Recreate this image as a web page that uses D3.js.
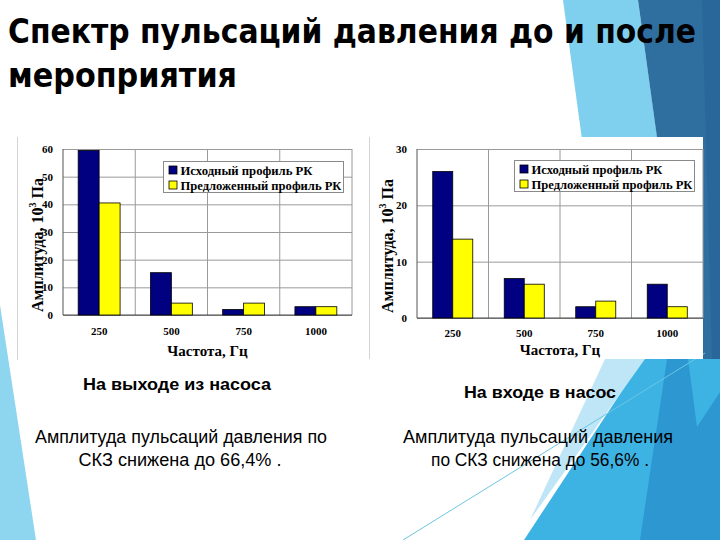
<!DOCTYPE html>
<html><head><meta charset="utf-8">
<script src="https://cdn.jsdelivr.net/npm/d3@7"></script>
<style>body{margin:0;background:#fff}svg{display:block}</style>
</head><body><svg id="c" width="720" height="540"></svg>
<script>
// ---- data ----
const categories = ["250", "500", "750", "1000"];
const seriesNames = ["Исходный профиль РК", "Предложенный профиль РК"];
const outletOriginal = [59.5, 15.3, 2, 3];
const outletProposed = [40.5, 4.3, 4.3, 3];
const inletOriginal = [26, 7, 2, 6];
const inletProposed = [14, 6, 3, 2];
const outletTicks = [0, 10, 20, 30, 40, 50, 60];
const inletTicks = [0, 10, 20, 30];
const titleLines = ["Спектр пульсаций давления до и после", "мероприятия"];

const svg = d3.select("#c");
const serif = "'Liberation Serif','Times New Roman',serif";
const sans = "'Liberation Sans',Arial,sans-serif";

// ---- slide decoration ----
const deco = svg.append("g");
const poly = (pts, fill) => deco.append("polygon").attr("points", pts.map(p => p.join(",")).join(" ")).attr("fill", fill);
poly([[563,0],[638,0],[688,360],[612,360]], "#7fd0ee");
poly([[638,0],[720,0],[720,392],[697,427]], "#2e6fa0");
poly([[702,0],[720,0],[720,360],[712,360]], "#29679a");
poly([[643,359],[720,359],[720,540],[524,540]], "#3db3e4");
poly([[667,359],[688,359],[697,427],[720,392],[720,540],[640,540]], "#2c97d1");
poly([[605,359],[645,359],[530,520]], "#bfe6f6");
poly([[0,305],[0,540],[36,540]], "#8ed5ef");
deco.append("line").attr("x1",403).attr("y1",540).attr("x2",705).attr("y2",353)
  .attr("stroke","#6cc6e3").attr("stroke-width",1);

// ---- title ----
const titleFont = "'DejaVu Sans Condensed','DejaVu Sans',sans-serif";
svg.append("text").attr("x", 8).attr("y", 43).text(titleLines[0])
  .attr("font-family", titleFont).attr("font-weight", "bold")
  .attr("font-size", 34).attr("textLength", 688).attr("lengthAdjust", "spacingAndGlyphs").attr("fill", "#000");
svg.append("text").attr("x", 8).attr("y", 87).text(titleLines[1])
  .attr("font-family", titleFont).attr("font-weight", "bold")
  .attr("font-size", 34).attr("textLength", 229).attr("lengthAdjust", "spacingAndGlyphs").attr("fill", "#000");

// ---- chart drawing ----
function drawChart(cfg) {
  const g = svg.append("g");
  const P = cfg.panel;
  g.append("rect").attr("x", P.x).attr("y", P.y).attr("width", P.w).attr("height", P.h).attr("fill", "#fff");
  g.append("line").attr("x1", P.x + 0.5).attr("x2", P.x + 0.5).attr("y1", P.y).attr("y2", P.y + P.h)
    .attr("stroke", "#d4d4d4");

  const x = d3.scaleBand().domain(categories).range([cfg.l, cfg.r]).paddingInner(cfg.pad).paddingOuter(cfg.pad / 2);
  const xi = d3.scaleBand().domain([0, 1]).range([0, x.bandwidth()]);
  const y = d3.scaleLinear().domain([0, d3.max(cfg.ticks)]).range([cfg.b, cfg.t]);

  // horizontal grid + y tick labels
  const ya = g.append("g").attr("transform", `translate(${cfg.l},0)`)
    .call(d3.axisLeft(y).tickValues(cfg.ticks).tickSize(-(cfg.r - cfg.l)).tickPadding(10).tickFormat(d3.format("d")));
  ya.select(".domain").remove();
  ya.selectAll(".tick line").attr("stroke", "#9a9a9a").attr("stroke-width", 1);
  ya.selectAll(".tick text").attr("font-family", serif).attr("font-weight", "bold").attr("font-size", 11).attr("fill", "#000");

  // vertical grid lines at category boundaries
  const bounds = d3.range(categories.length + 1).map(i => cfg.l + i * x.step());
  g.selectAll(null).data(bounds).join("line")
    .attr("x1", d => d).attr("x2", d => d).attr("y1", cfg.t).attr("y2", cfg.b)
    .attr("stroke", (d, i) => i === 0 ? "#555" : "#9a9a9a");
  g.append("line").attr("x1", cfg.l).attr("x2", cfg.r).attr("y1", y(0)).attr("y2", y(0)).attr("stroke", "#444");

  // bars
  const colors = ["#000080", "#ffff00"];
  const rows = categories.map((c, i) => ({ c, v: [cfg.data[0][i], cfg.data[1][i]] }));
  const grp = g.selectAll(null).data(rows).join("g").attr("transform", d => `translate(${x(d.c)},0)`);
  grp.selectAll("rect").data(d => d.v.map((v, s) => ({ v, s }))).join("rect")
    .attr("x", d => xi(d.s)).attr("width", xi.bandwidth())
    .attr("y", d => y(d.v)).attr("height", d => y(0) - y(d.v))
    .attr("fill", d => colors[d.s]).attr("stroke", "#000").attr("stroke-width", 0.8);

  // x axis labels
  const xa = g.append("g").attr("transform", `translate(0,${y(0)})`)
    .call(d3.axisBottom(x).tickSize(0).tickPadding(cfg.xPad));
  xa.select(".domain").remove();
  xa.selectAll(".tick text").attr("font-family", serif).attr("font-weight", "bold").attr("font-size", 11).attr("fill", "#000");

  // axis titles
  g.append("text").attr("x", (cfg.l + cfg.r) / 2).attr("y", cfg.xTitleY).attr("text-anchor", "middle")
    .attr("font-family", serif).attr("font-weight", "bold").attr("font-size", 15).text("Частота, Гц");
  const yt = g.append("text").attr("transform", `translate(${cfg.yTitleX},${cfg.yTitleC}) rotate(-90)`)
    .attr("text-anchor", "middle").attr("font-family", serif).attr("font-weight", "bold").attr("font-size", 16);
  yt.append("tspan").text("Амплитуда, 10");
  yt.append("tspan").text("3").attr("font-size", 10).attr("dy", -7);
  yt.append("tspan").text(" Па").attr("dy", 7);

  // legend
  const L = cfg.legend;
  const lg = g.append("g").attr("transform", `translate(${L.x},${L.y})`);
  lg.append("rect").attr("width", L.w).attr("height", L.h).attr("fill", "#fff").attr("stroke", "#8a8a8a");
  seriesNames.forEach((n, s) => {
    lg.append("rect").attr("x", 5.5).attr("y", 4.5 + s * 15).attr("width", 8).attr("height", 8)
      .attr("fill", colors[s]).attr("stroke", "#000").attr("stroke-width", 0.8);
    lg.append("text").attr("x", 17).attr("y", 13 + s * 15).text(n)
      .attr("font-family", serif).attr("font-weight", "bold").attr("font-size", 12.5)
      .attr("textLength", L.tl[s]).attr("lengthAdjust", "spacingAndGlyphs");
  });
}

drawChart({
  panel: { x: 17, y: 137, w: 336, h: 223 },
  l: 63, r: 352, t: 149, b: 315, pad: 0.42,
  ticks: outletTicks, data: [outletOriginal, outletProposed],
  xPad: 12, xTitleY: 356, yTitleX: 43, yTitleC: 245,
  legend: { x: 163.5, y: 161.5, w: 180, h: 31, tl: [132, 161] }
});
drawChart({
  panel: { x: 369, y: 137, w: 334, h: 222 },
  l: 417, r: 703, t: 149, b: 318, pad: 0.44,
  ticks: inletTicks, data: [inletOriginal, inletProposed],
  xPad: 11, xTitleY: 355, yTitleX: 393, yTitleC: 246,
  legend: { x: 514.5, y: 160.5, w: 180, h: 31, tl: [131, 161] }
});

// ---- captions ----
const cap = (t, cx, by, size, bold, len) => svg.append("text").attr("x", cx).attr("y", by).attr("text-anchor", "middle")
  .attr("font-family", sans).attr("font-weight", bold ? "bold" : "normal").attr("font-size", size)
  .attr("textLength", len).attr("lengthAdjust", "spacingAndGlyphs").attr("fill", "#000").text(t);
cap("На выходе из насоса", 177, 390, 16, true, 188);
cap("На входе в насос", 540, 398, 16, true, 152);
cap("Амплитуда пульсаций давления по", 181, 443, 17.5, false, 292);
cap("СКЗ снижена до 66,4% .", 180, 466, 17.5, false, 203);
cap("Амплитуда пульсаций давления", 538, 443, 17.5, false, 270);
cap("по СКЗ снижена до 56,6% .", 540, 466, 17.5, false, 218);
</script></body></html>
